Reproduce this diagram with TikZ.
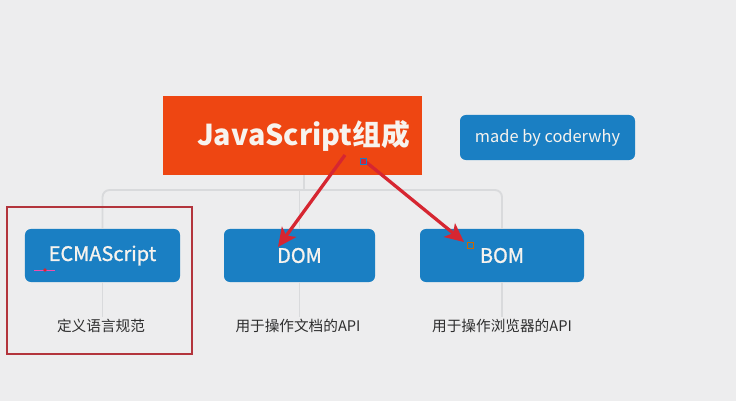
\documentclass[tikz,border=0pt]{standalone}
\usepackage{fontspec}
\usepackage{xcolor}
\usepackage{tikz}
\usetikzlibrary{arrows.meta,positioning,calc}
\newfontfamily\cjkfont{Noto Sans CJK SC}
\newfontfamily\cjkmid[FakeBold=1.2]{Noto Sans CJK SC}
\definecolor{bgPaper}{HTML}{EDEDEE}
\definecolor{cFlame}{HTML}{EE4612}
\definecolor{cOcean}{HTML}{1A7FC3}
\definecolor{lTree}{HTML}{D9DADC}
\definecolor{inkD}{HTML}{2E2E2E}
\definecolor{cCrimson}{HTML}{D62631}
\definecolor{cFrame}{HTML}{B3343C}
\definecolor{tWhite}{HTML}{F7F3EE}

\tikzset{
  titlebox/.style={fill=cFlame, minimum width=7.77cm, minimum height=2.37cm,
    font=\cjkfont\bfseries\fontsize{24.5}{28}\selectfont, text=tWhite},
  partbox/.style={fill=cOcean, rounded corners=5pt, minimum height=1.59cm,
    font=\cjkmid\fontsize{17}{20}\selectfont, text=tWhite},
  descnode/.style={font=\cjkfont\fontsize{12.5}{15}\selectfont, text=inkD, inner sep=2pt},
  treeline/.style={draw=lTree, line width=1.6pt},
  redarrow/.style={draw=cCrimson, line width=2.8pt,
    -{Stealth[length=16pt, width=15pt, inset=4pt]}},
}

\begin{document}
\begin{tikzpicture}[x=0.03cm, y=-0.03cm]
  % canvas
  \fill[bgPaper] (0,0) rectangle (736,401);
  \useasboundingbox (0,0) rectangle (736,401);

  % top level
  \node[titlebox] (title) at (292.5,135.5) {\hspace*{0.66cm}JavaScript组成};
  \node[partbox, minimum width=5.25cm, minimum height=1.35cm,
        font=\cjkfont\fontsize{14}{17}\selectfont] (credit) at (547.5,137.5) {made by coderwhy};

  % the three parts
  \node[partbox, minimum width=4.65cm] (ecma) at (102.5,255.5) {ECMAScript};
  \node[partbox, minimum width=4.53cm] (dom)  at (299.5,255.5) {DOM};
  \node[partbox, minimum width=4.92cm] (bom)  at (502,255.5)   {BOM};

  \node[descnode] (ecmadesc) at (101,326) {定义语言规范};
  \node[descnode] (domdesc)  at (298,326) {用于操作文档的API};
  \node[descnode] (bomdesc)  at (502,326) {用于操作浏览器的API};

  % tree connectors
  \coordinate (junction) at (304,190);
  \draw[treeline] (title.south -| junction) -- (junction);
  \draw[treeline, rounded corners=6pt]
    (ecma.north) -- (ecma.north |- junction) -- (bom.north |- junction) -- (bom.north);
  \draw[treeline] (dom.north |- junction) -- (dom.north);
  \draw[treeline] (ecma.south) -- (ecma.south |- ecmadesc.north);
  \draw[treeline] (dom.south)  -- (dom.south |- domdesc.north);
  \draw[treeline] (bom.south)  -- (bom.south |- bomdesc.north);

  % highlight frame
  \node[draw=cFrame, line width=1.5pt, minimum width=5.55cm, minimum height=4.41cm]
    (focus) at (99.5,280.5) {};

  % annotation arrows
  \coordinate (domfrom) at (345,155);
  \coordinate (domto)   at (278,247);
  \coordinate (bomfrom) at (366,162);
  \coordinate (bomto)   at (464,242);
  \draw[redarrow] (domfrom) -- (domto);
  \draw[redarrow] (bomfrom) -- (bomto);
  \draw[draw=cOcean, fill=cCrimson, line width=0.6pt] (360,158) rectangle (366,164);
  \draw[draw=orange!80!black, line width=0.6pt] (467,242) rectangle (473,248);

  % cursor mark
  \draw[magenta!70, line width=0.6pt] (34,270) -- (55,270);
  \fill[cCrimson] (45,270) circle (1.8);
\end{tikzpicture}
\end{document}
